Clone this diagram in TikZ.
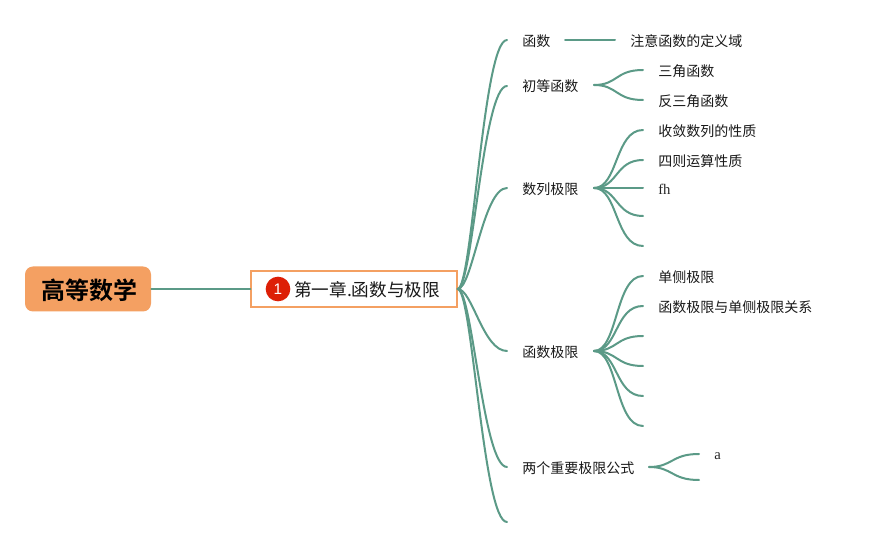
\documentclass[tikz,border=0pt]{standalone}
\usepackage{fontspec}
\setmainfont{Liberation Serif}
\newfontfamily\cjk{Noto Sans CJK SC}
\newfontfamily\cjkb{Noto Sans CJK SC Bold}
\newfontfamily\numf{Liberation Sans}
\definecolor{linkc}{HTML}{5B9A87}
\definecolor{orangec}{HTML}{F4A062}
\definecolor{redc}{HTML}{DD1F06}
\tikzset{
  link/.style={draw=linkc,line width=1.5pt,line cap=round},
  mainfan/.style={link,out=0,in=180,out distance=11pt,in distance=18pt},
  subfan/.style={link,out=0,in=180,out distance=18pt,in distance=21pt},
  leaf/.style={anchor=west,inner sep=0pt,font=\cjk\fontsize{10.5pt}{12pt}\selectfont,text=black!90},
  latin/.style={anchor=west,inner sep=0pt,font=\fontsize{11pt}{13pt}\selectfont,text=black!85},
}
\begin{document}
\begin{tikzpicture}[x=0.75pt,y=-0.75pt]
\useasboundingbox (0,0) rectangle (872,548);
\fill[white] (0,0) rectangle (872,548);
% main nodes
\node[fill=orangec,rounded corners=6pt,minimum width=94.5pt,minimum height=33.75pt,inner sep=0pt] (root) at (88,289) {};
\node[inner sep=0pt,font=\cjkb\fontsize{18pt}{20pt}\selectfont] (roott) at (89.5,290) {高等数学};
\node[draw=orangec,fill=white,line width=1.5pt,minimum width=154pt,minimum height=26.5pt,inner sep=0pt] (chap) at (354,289) {};
\node[circle,fill=redc,minimum size=18.5pt,inner sep=0pt,text=white,font=\numf\fontsize{11.5pt}{13pt}\selectfont] (badge) at (278,289) {1};
\node[anchor=west,inner sep=0pt,font=\cjk\fontsize{13.2pt}{15pt}\selectfont,text=black!90] (chapt) at (294,290) {第一章.函数与极限};
\coordinate (hub) at (chap.east);
% branch ends
\coordinate (b1) at (507,40);
\coordinate (b2) at (507,86);
\coordinate (b3) at (507,188);
\coordinate (b4) at (507,351);
\coordinate (b5) at (507,467);
\coordinate (b6) at (507,522);
\node[leaf] (n1) at (522,41) {函数};
\node[leaf] (n2) at (522,86) {初等函数};
\node[leaf] (n3) at (522,189) {数列极限};
\node[leaf] (n4) at (522,352) {函数极限};
\node[leaf] (n5) at (522,468) {两个重要极限公式};
\draw[link] (root.east) -- (chap.west);
\foreach \e in {b1,b2,b3,b4,b5,b6} \draw[mainfan] (hub) to (\e);
% 函数
\coordinate (s1) at (565,40);
\coordinate (t1) at (615,40);
\draw[link] (s1) -- (t1);
\node[leaf] (l1) at (630,41) {注意函数的定义域};
% 初等函数
\coordinate (s2) at (594,85);
\coordinate (t21) at (643,70);
\coordinate (t22) at (643,100);
\draw[subfan] (s2) to (t21);
\draw[subfan] (s2) to (t22);
\node[leaf] (l21) at (658,71) {三角函数};
\node[leaf] (l22) at (658,101) {反三角函数};
% 数列极限
\coordinate (s3) at (594,188);
\coordinate (t31) at (643,130);
\coordinate (t32) at (643,160);
\coordinate (t33) at (643,188);
\coordinate (t34) at (643,216);
\coordinate (t35) at (643,246);
\foreach \e in {t31,t32,t33,t34,t35} \draw[subfan] (s3) to (\e);
\node[leaf] (l31) at (658,131) {收敛数列的性质};
\node[leaf] (l32) at (658,161) {四则运算性质};
\node[latin] (l33) at (658,189) {fh};
% 函数极限
\coordinate (s4) at (594,351);
\coordinate (t41) at (643,276);
\coordinate (t42) at (643,306);
\coordinate (t43) at (643,336);
\coordinate (t44) at (643,366);
\coordinate (t45) at (643,396);
\coordinate (t46) at (643,426);
\foreach \e in {t41,t42,t43,t44,t45,t46} \draw[subfan] (s4) to (\e);
\node[leaf] (l41) at (658,277) {单侧极限};
\node[leaf] (l42) at (658,307) {函数极限与单侧极限关系};
% 两个重要极限公式
\coordinate (s5) at (649,467);
\coordinate (t51) at (699,454);
\coordinate (t52) at (699,480);
\draw[subfan] (s5) to (t51);
\draw[subfan] (s5) to (t52);
\node[latin] (l51) at (714,456) {a};
\end{tikzpicture}
\end{document}
